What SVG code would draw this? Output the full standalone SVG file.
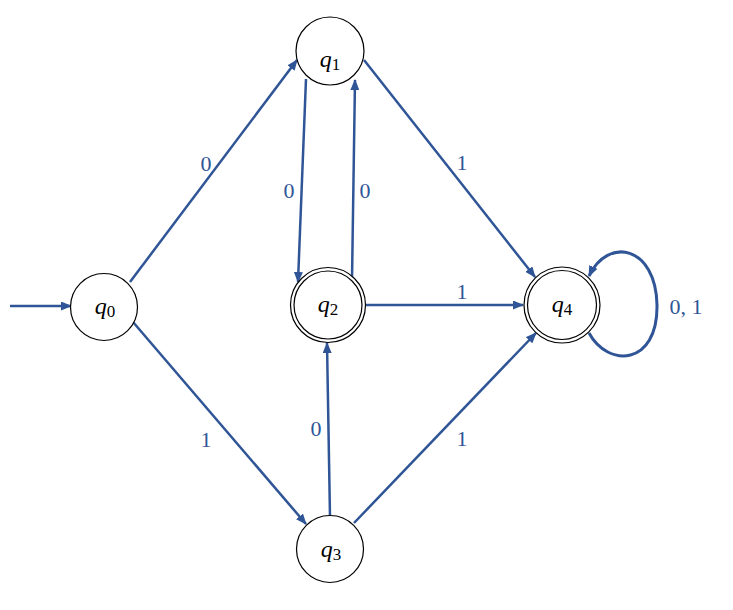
<svg xmlns="http://www.w3.org/2000/svg" width="733" height="610" viewBox="0 0 733 610">
<style>
.st{fill:#fff;stroke:#000;stroke-width:1.2}
.lbl{font-family:"Liberation Serif","DejaVu Serif",serif;font-size:24px;fill:#000;text-anchor:middle}
.q{font-style:italic}
.sub{font-size:17px}
.e{fill:none;stroke:#2F5597;stroke-width:2.5}
.lp{stroke-width:3}
.el{font-family:"Liberation Serif","DejaVu Serif",serif;font-size:22px;fill:#2F5597;text-anchor:middle}
</style>
<defs>
<marker id="ah" markerUnits="userSpaceOnUse" markerWidth="11" markerHeight="9" refX="10" refY="4.5" orient="auto">
<path d="M0,0 L11,4.5 L0,9 z" fill="#2F5597"/>
</marker>
</defs>
<g id="connectors">
<line class="e" x1="10" y1="306" x2="71" y2="306" marker-end="url(#ah)"/>
<line class="e" x1="130" y1="282" x2="297" y2="60" marker-end="url(#ah)"/>
<line class="e" x1="133" y1="322" x2="306" y2="524" marker-end="url(#ah)"/>
<line class="e" x1="306" y1="79" x2="298" y2="282" marker-end="url(#ah)"/>
<line class="e" x1="352" y1="280" x2="355" y2="80" marker-end="url(#ah)"/>
<line class="e" x1="364" y1="60" x2="535" y2="277" marker-end="url(#ah)"/>
<line class="e" x1="366" y1="305" x2="523" y2="305" marker-end="url(#ah)"/>
<line class="e" x1="330" y1="517" x2="327" y2="343" marker-end="url(#ah)"/>
<line class="e" x1="354" y1="523" x2="536" y2="333" marker-end="url(#ah)"/>
<path class="e lp" d="M589,333 C608,368 658,366 657,305 C656,246 608,236 589,276" marker-end="url(#ah)"/>
<text class="el" x="206" y="171">0</text>
<text class="el" x="206" y="447">1</text>
<text class="el" x="289" y="198">0</text>
<text class="el" x="365" y="198">0</text>
<text class="el" x="462" y="170">1</text>
<text class="el" x="462" y="299">1</text>
<text class="el" x="316" y="436">0</text>
<text class="el" x="462" y="446">1</text>
<text class="el" x="686" y="314">0, 1</text>
</g>
<g id="q0">
<circle class="st" cx="104" cy="307" r="33.5"/>
<text class="lbl" x="105" y="314"><tspan class="q">q</tspan><tspan class="sub" dy="3">0</tspan></text>
</g>
<g id="q1">
<circle class="st" cx="330" cy="51" r="34"/>
<text class="lbl" x="330" y="67"><tspan class="q">q</tspan><tspan class="sub" dy="3">1</tspan></text>
</g>
<g id="q2">
<circle class="st" cx="328" cy="305" r="37.5"/>
<circle class="st" cx="328" cy="305" r="34"/>
<text class="lbl" x="328" y="312"><tspan class="q">q</tspan><tspan class="sub" dy="3">2</tspan></text>
</g>
<g id="q4">
<circle class="st" cx="562" cy="305" r="38"/>
<circle class="st" cx="562" cy="305" r="34.5"/>
<text class="lbl" x="562" y="312"><tspan class="q">q</tspan><tspan class="sub" dy="3">4</tspan></text>
</g>
<g id="q3">
<circle class="st" cx="330" cy="549" r="33.5"/>
<text class="lbl" x="331" y="557"><tspan class="q">q</tspan><tspan class="sub" dy="3">3</tspan></text>
</g>
</svg>
